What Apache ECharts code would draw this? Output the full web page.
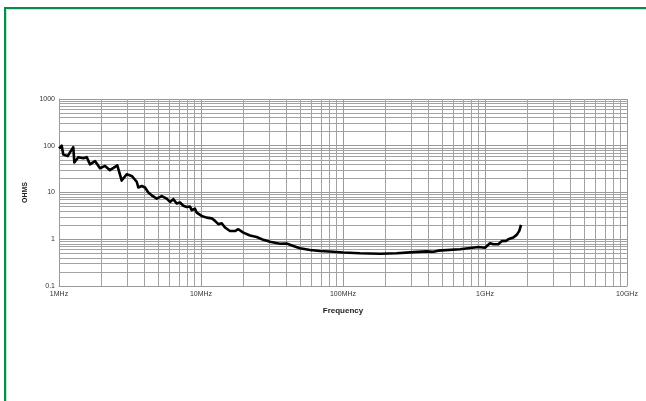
<!DOCTYPE html>
<html><head><meta charset="utf-8">
<script src="https://cdn.jsdelivr.net/npm/echarts@6/dist/echarts.min.js"></script>
<style>
html,body{margin:0;padding:0;background:#fff;}
#wrap{position:relative;width:646px;height:401px;overflow:hidden;}
#frame{position:absolute;left:4px;top:7px;width:700px;height:450px;border-left:2px solid #0b8a4e;border-top:2px solid #0b8a4e;box-shadow:inset 1px 1px 0 #bfe8cf;}
#chart{position:absolute;left:0;top:0;width:646px;height:401px;}
</style></head>
<body><div id="wrap"><div id="frame"></div><div id="chart"></div></div>
<script>
// Frequency in MHz
const freqMHz = [1.0,1.045,1.072,1.152,1.195,1.261,1.282,1.367,1.483,1.567,1.653,1.793,1.944,2.109,2.287,2.574,2.764,2.998,3.251,3.526,3.619,3.823,4.033,4.255,4.495,4.875,5.287,5.734,6.05,6.38,6.745,7.114,7.505,7.932,8.367,8.6,9.07,9.33,10.1,10.97,11.9,12.55,13.24,13.99,14.76,16.0,17.35,18.31,19.86,22.14,24.68,27.46,30.61,36.0,40.13,44.67,49.8,58.6,68.9,85.4,100.5,131.8,182.2,238.9,312.7,388.5,432.4,469,666.6,897,1000,1084,1144,1241,1311,1406,1459,1582,1672,1744,1793];
const ohms = [88,100,65,60,72,93,44,57,54,57,40,47,33,37,30,38,18,24.6,22.6,17,12.8,13.8,12.8,10,8.7,7.4,8.4,7.4,6.3,7.2,5.8,6.1,5.2,4.9,5.0,4.2,4.5,3.7,3.15,2.9,2.8,2.47,2.1,2.2,1.78,1.5,1.5,1.64,1.39,1.2,1.12,0.97,0.88,0.8,0.81,0.72,0.64,0.59,0.56,0.54,0.52,0.50,0.49,0.50,0.53,0.55,0.54,0.57,0.61,0.68,0.66,0.82,0.78,0.78,0.91,0.92,1.0,1.09,1.24,1.51,2.03];
const xTickLabels = {1:'1MHz',10:'10MHz',100:'100MHz',1000:'1GHz',10000:'10GHz'};
const yTickLabels = {0.1:'0.1',1:'1',10:'10',100:'100',1000:'1000'};
const xDecades = [1,10,100,1000];
const yDecades = [0.1,1,10,100];
const minorSteps = [2,3,4,5,6,7,8,9];

function lbl(map, v){
  for (const k in map){ if (Math.abs(Math.log10(v) - Math.log10(+k)) < 1e-6) return map[k]; }
  return '';
}
const gridLines = [];
xDecades.forEach(d => minorSteps.forEach(m => gridLines.push({xAxis: +(d*m).toPrecision(6)})));
yDecades.forEach(d => minorSteps.forEach(m => gridLines.push({yAxis: +(d*m).toPrecision(6)})));

const font = '"Liberation Sans", Arial, sans-serif';
const chart = echarts.init(document.getElementById('chart'), null, {renderer:'canvas'});
chart.setOption({
  animation:false,
  backgroundColor:'transparent',
  grid:{left:59, top:99, width:568, height:187, containLabel:false},
  xAxis:{
    type:'log', logBase:10, min:1, max:10000,
    name:'Frequency', nameLocation:'middle', nameGap:21,
    nameTextStyle:{fontFamily:font, fontSize:8, fontWeight:'bold', color:'#222'},
    axisLine:{show:true, lineStyle:{color:'#999', width:1}},
    axisTick:{show:false},
    axisLabel:{fontFamily:font, fontSize:7, color:'#333', margin:5, formatter:v=>lbl(xTickLabels,v)},
    splitLine:{show:true, lineStyle:{color:'#999', width:1}}
  },
  yAxis:{
    type:'log', logBase:10, min:0.1, max:1000,
    name:'OHMS', nameLocation:'middle', nameGap:28, nameRotate:90,
    nameTextStyle:{fontFamily:font, fontSize:7, fontWeight:'bold', color:'#222'},
    axisLine:{show:true, lineStyle:{color:'#999', width:1}},
    axisTick:{show:false},
    axisLabel:{fontFamily:font, fontSize:7, color:'#333', margin:4, formatter:v=>lbl(yTickLabels,v)},
    splitLine:{show:true, lineStyle:{color:'#999', width:1}}
  },
  series:[{
    type:'line',
    data: freqMHz.map((f,i)=>[f, ohms[i]]),
    showSymbol:false, symbol:'none',
    lineStyle:{color:'#000', width:2.6, join:'round'},
    z:5,
    markLine:{
      silent:true, symbol:['none','none'], label:{show:false},
      lineStyle:{color:'#a3a3a3', width:1, type:'solid'},
      emphasis:{disabled:true},
      data: gridLines,
      z:1
    }
  }]
});
</script></body></html>
